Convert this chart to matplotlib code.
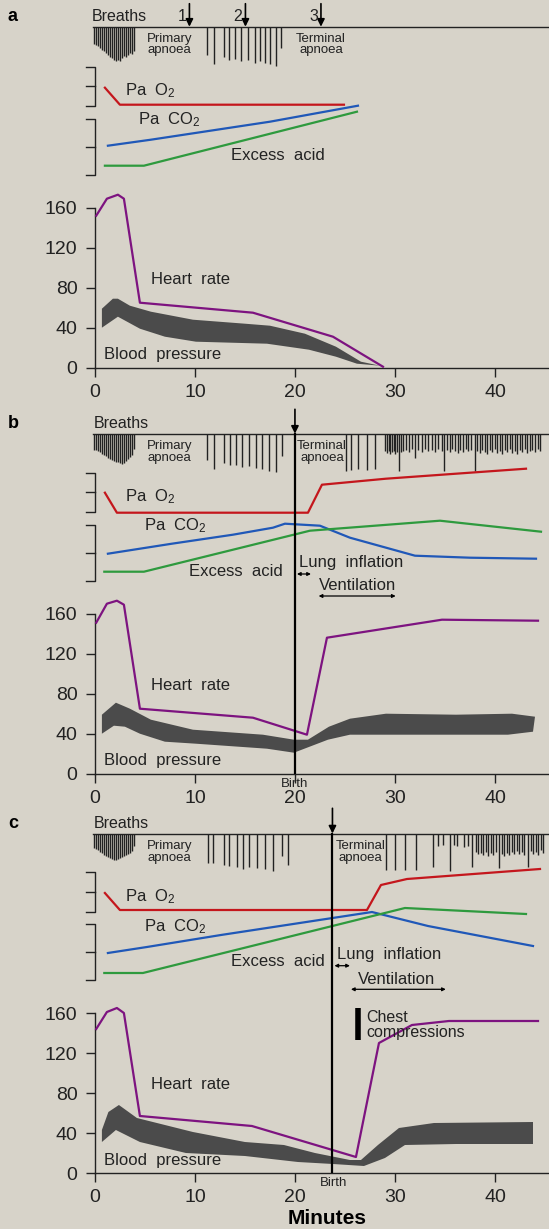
"""Asphyxia / resuscitation schematic: three stacked panels (a, b, c)."""

import matplotlib
matplotlib.use("Agg")
import matplotlib.pyplot as plt

plt.rcParams["font.family"] = ["Liberation Sans", "DejaVu Sans"]
plt.rcParams["mathtext.fontset"] = "custom"
plt.rcParams["mathtext.rm"] = "Liberation Sans"
plt.rcParams["mathtext.it"] = "Liberation Sans"

BG = "#d7d3c9"
INK = "#222222"
RED, BLUE, GREEN = "#c4161c", "#2058b8", "#2e9a3e"
PURPLE, GREY = "#7d1380", "#4b4b4b"

# ---------------- data (x = minutes, y = plot units) ----------------
# breaths: time of each breath and depth of its tick below the baseline
a_breath_t = [-0.1, 0.1, 0.3, 0.5, 0.7, 0.9, 1.1, 1.3, 1.5, 1.7, 1.9, 2.1, 2.3, 2.5, 2.7,
              2.9, 3.1, 3.3, 3.5, 3.7, 3.9,
              11.2, 11.9, 12.9, 13.4, 14.0, 14.6, 15.3, 16.0, 16.5, 17.0, 17.5, 18.1, 18.6]
a_breath_d = [17, 18, 19, 21, 23, 24, 26, 28, 30, 31, 33, 34, 33, 34, 31,
              29, 30, 28, 26, 27, 24,
              28, 37, 30, 33, 32, 34, 33, 36, 34, 36, 37, 39, 21]

b_breath_t = [-0.1, 0.1, 0.3, 0.5, 0.7, 0.9, 1.1, 1.3, 1.5, 1.7, 1.9, 2.1, 2.3, 2.5, 2.7,
              2.9, 3.1, 3.3, 3.5, 3.7, 3.9,
              11.2, 11.9, 12.9, 13.5, 14.1, 14.7, 15.4, 16.1, 16.7, 17.4, 18.1, 18.7,
              25.1, 25.6, 26.3, 27.2, 28.0,
              29.0, 29.2, 29.4, 29.5, 29.7, 29.9, 30.0, 30.2, 30.4, 30.6,
              30.8, 31.1, 31.4, 31.7, 32.0,
              32.3, 32.7, 33.0, 33.3, 33.7, 34.0, 34.3, 34.7, 34.9,
              35.2, 35.5, 35.7, 36.0, 36.3, 36.5, 36.8, 37.1, 37.3, 37.6, 38.0,
              38.2, 38.5, 38.7, 39.0, 39.2, 39.5, 39.7, 40.0, 40.2, 40.5, 40.7, 41.0,
              41.2, 41.5, 41.7, 42.0, 42.2, 42.5, 42.7, 43.0, 43.2, 43.5, 43.7, 44.0,
              44.3, 44.5]
b_breath_d = [16, 16, 17, 18, 20, 21, 22, 24, 25, 26, 27, 28, 28, 29, 30,
              29, 27, 25, 23, 21, 15,
              26, 35, 29, 31, 31, 33, 32, 34, 35, 37, 38, 22,
              37, 36, 35, 36, 35,
              17, 19, 17, 20, 18, 17, 20, 18, 37, 18,
              17, 16, 18, 15, 24,
              16, 18, 15, 17, 16, 18, 15, 17, 37,
              16, 18, 15, 17, 19, 16, 18, 15, 17, 16, 37,
              17, 19, 16, 18, 20, 16, 18, 15, 19, 17, 20, 16,
              18, 15, 19, 17, 20, 16, 18, 15, 19, 17, 16, 18,
              15, 17]

c_breath_t = [-0.1, 0.1, 0.3, 0.5, 0.7, 0.9, 1.1, 1.3, 1.5, 1.7, 1.9, 2.1, 2.3, 2.5, 2.7,
              2.9, 3.1, 3.3, 3.5, 3.7, 3.9,
              11.3, 11.8, 12.9, 13.4, 14.2, 14.8, 15.4, 16.2, 17.0, 17.8, 18.7, 19.3,
              29.1, 30.0, 31.0, 32.1, 33.8, 34.3, 34.8, 35.5, 35.9, 36.2, 36.9, 37.3,
              37.7, 38.1, 38.3, 38.6, 38.8, 39.1, 39.3, 39.6, 39.8, 40.1, 40.4, 40.7,
              40.9, 41.2, 41.4, 41.7, 41.9, 42.2, 42.4, 42.7, 42.9, 43.3, 43.6, 43.8,
              44.1, 44.3, 44.6, 44.8]
c_breath_d = [14, 15, 16, 18, 19, 21, 22, 23, 24, 25, 26, 26, 25, 24, 23,
              22, 21, 20, 19, 17, 12,
              29, 29, 31, 32, 33, 35, 33, 34, 35, 37, 22, 31,
              36, 36, 36, 36, 33, 12, 11, 37, 11, 12, 13, 12,
              33, 18, 20, 19, 21, 18, 22, 19, 21, 18, 34, 20,
              22, 19, 21, 18, 20, 17, 20, 18, 21, 33, 17, 20,
              18, 21, 16, 19]

# blood gases (arbitrary units, placed in the band above the heart-rate axis)
a_pao2_t, a_pao2 = [1.0, 2.5, 24.9], [280, 263, 263]
a_paco2_t, a_paco2 = [1.3, 5.6, 17.5, 26.3], [222, 228, 246, 262]
a_acid_t, a_acid = [1.0, 4.9, 26.2], [202, 202, 256]

b_pao2_t, b_pao2 = [1.0, 2.2, 21.3, 22.7, 29.1, 43.1], [281, 261, 261, 289, 295, 305]
b_paco2_t = [1.3, 7.7, 13.8, 17.8, 19.0, 22.5, 25.5, 32.0, 37.5, 44.1]
b_paco2 = [220, 230, 239, 246, 250, 248, 236, 218, 216, 215]
b_acid_t, b_acid = [0.94, 4.9, 21.5, 34.5, 44.6], [202, 202, 243, 253, 242]

c_pao2_t, c_pao2 = [1.0, 2.5, 27.2, 28.6, 31.2, 44.5], [280, 263, 263, 288, 294, 304]
c_paco2_t, c_paco2 = [1.3, 5.2, 12.6, 27.7, 33.3, 43.8], [220, 226, 238, 261, 247, 227]
c_acid_t, c_acid = [0.94, 4.8, 31.0, 43.1], [200, 200, 265, 259]

# heart rate (beats/min)
a_hr_t = [0.13, 1.2, 2.3, 2.9, 4.5, 15.8, 23.8, 28.8]
a_hr = [152, 169, 173, 169, 65, 55, 31, 1]
b_hr_t = [0.13, 1.2, 2.2, 2.9, 4.5, 15.8, 21.2, 23.2, 34.7, 44.3]
b_hr = [151, 170, 173, 169, 65, 56, 39, 136, 154, 153]
c_hr_t = [0.13, 1.2, 2.2, 2.9, 4.5, 15.7, 26.1, 28.4, 31.7, 35.4, 44.3]
c_hr = [144, 161, 165, 160, 57, 47, 16, 130, 148, 152, 152]

# blood pressure band: upper (systolic) and lower (diastolic) edges
a_bp_hi_t = [0.7, 1.8, 2.3, 3.5, 5.6, 9.8, 15.0, 17.5, 21.0, 24.1, 26.6, 28.5]
a_bp_hi = [59, 69, 69, 62, 56, 48, 44, 42, 34, 21, 6, 2]
a_bp_lo_t = [0.7, 2.3, 4.5, 7.0, 10.1, 17.2, 21.4, 24.1, 26.2, 28.5]
a_bp_lo = [40, 51, 39, 31, 26, 24, 18, 11, 4, 2]

b_bp_hi_t = [0.7, 2.1, 3.5, 5.6, 9.8, 16.8, 19.9, 21.3, 23.4, 25.5, 29.1, 36.1, 41.7, 44.0]
b_bp_hi = [59, 71, 65, 54, 44, 39, 34, 34, 47, 55, 60, 59, 60, 57]
b_bp_lo_t = [0.7, 1.9, 3.0, 4.5, 7.0, 10.1, 17.2, 19.9, 23.3, 25.5, 32.6, 41.3, 43.8]
b_bp_lo = [40, 48, 47, 40, 32, 30, 25, 21, 34, 39, 39, 39, 42]

c_bp_hi_t = [0.7, 1.35, 2.4, 4.2, 9.8, 15.0, 18.9, 22.0, 25.5, 26.6, 28.3, 30.4, 33.9, 43.8]
c_bp_hi = [43, 61, 68, 55, 41, 31, 28, 20, 13, 13, 28, 45, 50, 51]
c_bp_lo_t = [0.7, 2.1, 4.5, 9.1, 15.0, 20.3, 23.8, 26.9, 29.0, 31.0, 36.1, 43.8]
c_bp_lo = [31, 43, 31, 20, 17, 11, 9, 7, 15, 28, 29, 29]

W, H = 549, 1229
X0_PX = 94.9          # pixel position of t = 0
XMAX = 45.4
YTOP = 366


def make_axes(fig, y0_px):
    ax = fig.add_axes([X0_PX / W, 1 - y0_px / H, (W - X0_PX) / W, YTOP / H])
    ax.set_facecolor("none")
    ax.set_xlim(0, XMAX)
    ax.set_ylim(0, YTOP)
    for s in ("top", "right"):
        ax.spines[s].set_visible(False)
    ax.spines["left"].set_bounds(0, 160)
    for s in ("left", "bottom"):
        ax.spines[s].set_linewidth(1.0)
        ax.spines[s].set_color(INK)
    ax.set_xticks([0, 10, 20, 30, 40])
    ax.set_yticks([0, 40, 80, 120, 160])
    ax.tick_params(direction="out", length=6.5, width=1.0, colors=INK, labelsize=14)
    ax.tick_params(axis="y", pad=6)
    ax.tick_params(axis="x", pad=5)
    return ax


def txt(ax, x, y, s, **kw):
    kw.setdefault("fontsize", 12)
    kw.setdefault("color", INK)
    kw.setdefault("va", "center")
    ax.text(x, y, s, clip_on=False, **kw)


def draw_panel(ax, label, base, breath_t, breath_d, gases, hr_t, hr, bp_hi_t, bp_hi,
               bp_lo_t, bp_lo, texts):
    kw = dict(clip_on=False)
    # panel letter and breaths baseline
    txt(ax, -8.2, base + 10, label, fontsize=13, fontweight="bold", ha="center", color="black")
    txt(ax, texts["breaths_x"], base + 10.5, "Breaths", fontsize=11.5)
    ax.plot([-0.2, XMAX], [base, base], color=INK, lw=1.0, **kw)
    ax.vlines(breath_t, [base - d for d in breath_d], base, color=INK, lw=1.0, **kw)
    txt(ax, 7.46, base - 18, "Primary\napnoea", fontsize=9.5, ha="center", linespacing=0.95)
    txt(ax, texts["term_x"], base - 18, "Terminal\napnoea", fontsize=9.5, ha="center",
        linespacing=0.95)

    # brackets for the gas scales
    for top, mid, bot in [(301, 281.5, 261.5), (249, 221, 193)]:
        ax.plot([-0.9, 0, 0, -0.9], [top, top, bot, bot], color=INK, lw=1.0, **kw)
        ax.plot([-0.9, 0], [mid, mid], color=INK, lw=1.0, **kw)

    (pt, pv), (ct, cv), (at, av) = gases
    ax.plot(pt, pv, color=RED, lw=1.6, **kw)
    ax.plot(ct, cv, color=BLUE, lw=1.6, **kw)
    ax.plot(at, av, color=GREEN, lw=1.6, **kw)
    txt(ax, 3.01, texts["pao2_y"], "Pa  O$_2$")
    txt(ax, texts["paco2_x"], texts["paco2_y"], "Pa  CO$_2$")
    txt(ax, texts["acid_x"], texts["acid_y"], "Excess  acid")

    # blood pressure band and heart rate
    ax.fill(list(bp_hi_t) + list(bp_lo_t)[::-1], list(bp_hi) + list(bp_lo)[::-1],
            color=GREY, lw=0, zorder=2)
    ax.plot(hr_t, hr, color=PURPLE, lw=1.6, zorder=3, **kw)
    txt(ax, 5.57, 88.5, "Heart  rate")
    txt(ax, 0.87, 13, "Blood  pressure")


fig = plt.figure(figsize=(W / 100, H / 100), dpi=100)
fig.patch.set_facecolor(BG)

# ---- a ----
ax = make_axes(fig, 367.7)
draw_panel(ax, "a", 341, a_breath_t, a_breath_d,
           [(a_pao2_t, a_pao2), (a_paco2_t, a_paco2), (a_acid_t, a_acid)],
           a_hr_t, a_hr, a_bp_hi_t, a_bp_hi, a_bp_lo_t, a_bp_lo,
           dict(breaths_x=-0.28, term_x=22.6, pao2_y=277, paco2_x=4.34, paco2_y=247.7,
                acid_x=13.62, acid_y=212))
for t, lab in [(9.45, "1"), (15.05, "2"), (22.6, "3")]:
    ax.annotate("", xy=(t, 341), xytext=(t, 364), annotation_clip=False,
                arrowprops=dict(arrowstyle="-|>", color="black", lw=1.2,
                                mutation_scale=11, shrinkA=0, shrinkB=0))
    txt(ax, t - 0.3, 351.5, lab, fontsize=11.5, ha="right")

# ---- b ----
ax = make_axes(fig, 773.7)
draw_panel(ax, "b", 339.7, b_breath_t, b_breath_d,
           [(b_pao2_t, b_pao2), (b_paco2_t, b_paco2), (b_acid_t, b_acid)],
           b_hr_t, b_hr, b_bp_hi_t, b_bp_hi, b_bp_lo_t, b_bp_lo,
           dict(breaths_x=-0.14, term_x=22.7, pao2_y=277, paco2_x=4.94, paco2_y=247.7,
                acid_x=9.42, acid_y=202.7))
birth = 20.0
ax.plot([birth, birth], [0, 339.7], color="black", lw=1.6, zorder=4)
ax.annotate("", xy=(birth, 340), xytext=(birth, 364.4), annotation_clip=False,
            arrowprops=dict(arrowstyle="-|>", color="black", lw=1.2,
                            mutation_scale=11, shrinkA=0, shrinkB=0))
txt(ax, birth, -10.3, "Birth", fontsize=9.5, ha="center")
txt(ax, 20.45, 211, "Lung  inflation")
ax.annotate("", xy=(20.2, 199.7), xytext=(21.6, 199.7), annotation_clip=False,
            arrowprops=dict(arrowstyle="<|-|>", color="black", lw=0.9,
                            mutation_scale=5, shrinkA=0, shrinkB=0))
txt(ax, 26.28, 188.7, "Ventilation", ha="center")
ax.annotate("", xy=(22.37, 177.7), xytext=(30.07, 177.7), annotation_clip=False,
            arrowprops=dict(arrowstyle="<|-|>", color="black", lw=0.9,
                            mutation_scale=5, shrinkA=0, shrinkB=0))

# ---- c ----
ax = make_axes(fig, 1173)
draw_panel(ax, "c", 339, c_breath_t, c_breath_d,
           [(c_pao2_t, c_pao2), (c_paco2_t, c_paco2), (c_acid_t, c_acid)],
           c_hr_t, c_hr, c_bp_hi_t, c_bp_hi, c_bp_lo_t, c_bp_lo,
           dict(breaths_x=-0.14, term_x=26.54, pao2_y=276.3, paco2_x=4.94, paco2_y=246.3,
                acid_x=13.62, acid_y=211.3))
birth = 23.75
ax.plot([birth, birth], [0, 339], color="black", lw=1.6, zorder=4)
ax.annotate("", xy=(birth, 339.5), xytext=(birth, 364.7), annotation_clip=False,
            arrowprops=dict(arrowstyle="-|>", color="black", lw=1.2,
                            mutation_scale=11, shrinkA=0, shrinkB=0))
txt(ax, 23.84, -10.3, "Birth", fontsize=9.5, ha="center")
txt(ax, 24.19, 218, "Lung  inflation")
ax.annotate("", xy=(23.95, 207.3), xytext=(25.5, 207.3), annotation_clip=False,
            arrowprops=dict(arrowstyle="<|-|>", color="black", lw=0.9,
                            mutation_scale=5, shrinkA=0, shrinkB=0))
txt(ax, 30.11, 193, "Ventilation", ha="center")
ax.annotate("", xy=(25.6, 183.7), xytext=(35.08, 183.7), annotation_clip=False,
            arrowprops=dict(arrowstyle="<|-|>", color="black", lw=0.9,
                            mutation_scale=5, shrinkA=0, shrinkB=0))
ax.plot([26.34, 26.34], [133, 164.7], color="black", lw=4, solid_capstyle="butt")
txt(ax, 27.11, 148, "Chest\ncompressions", fontsize=11.5, ha="left", linespacing=0.95)
txt(ax, 23.25, -46, "Minutes", fontsize=15, fontweight="bold", color="black", ha="center")

fig.savefig("out.png", dpi=100, facecolor=BG)
